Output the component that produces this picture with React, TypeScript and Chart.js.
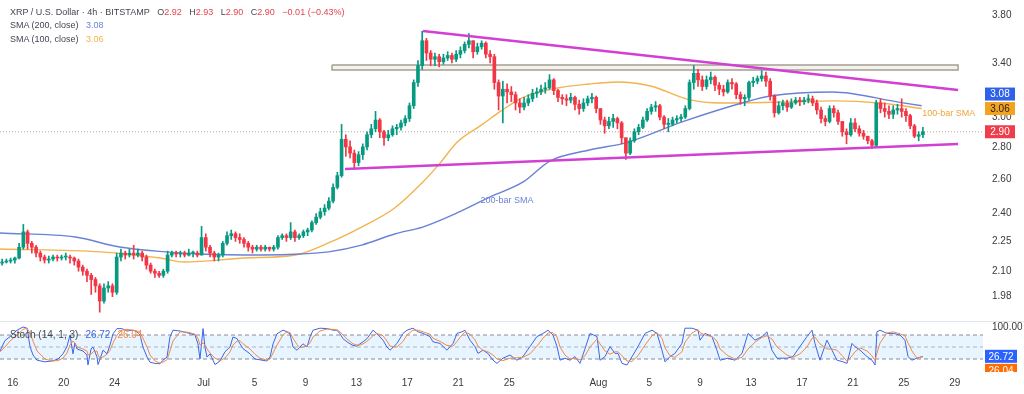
import React, { useEffect, useRef } from "react";
import { Chart, registerables } from "chart.js";

Chart.register(...registerables);

const FONT = '"Liberation Sans", Arial, sans-serif';
Chart.defaults.font.family = FONT;

// ---------- axes ----------
const X_END_DAYS = 77.22; // days since Jun 15 00:00 shown at the right edge of the plot
const TICK_DAYS = [1, 5, 9, 16, 20, 24, 28, 32, 36, 40, 47, 51, 55, 59, 63, 67, 71, 75];
const TICK_LABELS = ["16", "20", "24", "Jul", "5", "9", "13", "17", "21", "25", "Aug", "5", "9", "13", "17", "21", "25", "29"];
const PRICE_TICKS = [1.98, 2.1, 2.25, 2.4, 2.6, 2.8, 3.0, 3.4, 3.8];
const PRICE_MIN = 1.8714;
const PRICE_MAX = 3.934;
const STOCH_MIN = -12.5;
const STOCH_MAX = 112.5;
const STOCH_AXIS_TICKS = [100];
const STOCH_LEVELS = [80, 50, 20];

// ---------- header ----------
const HEADER_TITLE = "XRP / U.S. Dollar · 4h · BITSTAMP";
const HEADER_OHLC_KEYS = ["O", "H", "L", "C"];
const HEADER_OHLC_VALUES = ["2.92", "2.93", "2.90", "2.90"];
const HEADER_CHANGE = "−0.01 (−0.43%)";
const SMA200_TITLE = "SMA (200, close)";
const SMA100_TITLE = "SMA (100, close)";
const STOCH_TITLE = "Stoch (14, 1, 3)";

// ---------- candles (8h bars from Jun 15 00:00) ----------
const BAR_HOURS = 8;
const FIRST_OPEN = 2.14;
const CLOSES = [
  2.145, 2.15, 2.155, 2.165, 2.22, 2.3, 2.24, 2.22, 2.19, 2.17, 2.155, 2.16,
  2.17, 2.165, 2.17, 2.17, 2.165, 2.15, 2.12, 2.1, 2.08, 2.06, 2.03, 1.96,
  2.02, 2.03, 2.0, 2.17, 2.19, 2.18, 2.19, 2.18, 2.19, 2.17, 2.13, 2.1,
  2.09, 2.08, 2.1, 2.18, 2.19, 2.185, 2.19, 2.18, 2.19, 2.19, 2.18, 2.27,
  2.22, 2.19, 2.17, 2.18, 2.24, 2.28, 2.29, 2.27, 2.26, 2.24, 2.22, 2.21,
  2.22, 2.21, 2.22, 2.21, 2.22, 2.27, 2.28, 2.27, 2.3, 2.27, 2.28, 2.3,
  2.31, 2.35, 2.38, 2.41, 2.43, 2.47, 2.55, 2.62, 2.85, 2.8, 2.76, 2.7,
  2.75, 2.8, 2.88, 2.92, 2.98, 2.9, 2.86, 2.88, 2.92, 2.93, 2.96, 2.99,
  3.08, 3.25, 3.38, 3.58, 3.48, 3.43, 3.45, 3.41, 3.44, 3.46, 3.43, 3.47,
  3.5, 3.55, 3.58, 3.49, 3.53, 3.56, 3.47, 3.45, 3.25, 3.15, 3.2, 3.18,
  3.16, 3.1, 3.07, 3.1, 3.13, 3.17, 3.18, 3.2, 3.21, 3.27, 3.19, 3.14,
  3.13, 3.12, 3.14, 3.09, 3.06, 3.1, 3.13, 3.14, 3.06, 2.98, 2.94, 2.97,
  2.99, 2.96, 2.86, 2.76, 2.84, 2.9, 2.93, 2.98, 3.04, 3.07, 3.08, 3.0,
  2.95, 2.95, 2.98, 2.99, 3.0, 3.06, 3.25, 3.32, 3.27, 3.22, 3.27, 3.29,
  3.23, 3.2, 3.18, 3.25, 3.24, 3.16, 3.13, 3.14, 3.25, 3.26, 3.28, 3.3,
  3.26, 3.15, 3.03, 3.08, 3.1, 3.07, 3.1, 3.12, 3.11, 3.12, 3.13, 3.1,
  3.05, 2.99, 2.97, 3.06, 3.03, 2.97, 2.9, 2.88, 2.96, 2.92, 2.89, 2.87,
  2.84, 2.81, 3.1, 3.06, 3.04, 3.02, 3.05, 3.06, 3.04, 3.01, 2.94, 2.87,
  2.88, 2.9,
];
const HIGHS = [
  2.16, 2.16, 2.165, 2.17, 2.24, 2.34, 2.31, 2.25, 2.23, 2.2, 2.18, 2.175,
  2.18, 2.18, 2.18, 2.19, 2.18, 2.17, 2.16, 2.13, 2.11, 2.09, 2.07, 2.04,
  2.04, 2.05, 2.04, 2.19, 2.21, 2.2, 2.21, 2.23, 2.21, 2.2, 2.18, 2.14,
  2.11, 2.1, 2.11, 2.2, 2.2, 2.2, 2.2, 2.2, 2.21, 2.2, 2.2, 2.33,
  2.29, 2.23, 2.2, 2.19, 2.25, 2.3, 2.31, 2.3, 2.29, 2.27, 2.25, 2.23,
  2.23, 2.23, 2.23, 2.22, 2.23, 2.28, 2.29, 2.29, 2.35, 2.31, 2.29, 2.31,
  2.32, 2.36, 2.4, 2.43, 2.45, 2.49, 2.57, 2.64, 2.95, 2.88, 2.84, 2.78,
  2.77, 2.82, 2.9, 2.95, 3.04, 2.99, 2.91, 2.91, 2.94, 2.95, 2.98, 3.01,
  3.1, 3.27, 3.42, 3.66, 3.6, 3.5, 3.48, 3.47, 3.47, 3.49, 3.48, 3.5,
  3.53, 3.57, 3.64, 3.58, 3.56, 3.58, 3.57, 3.5, 3.47, 3.27, 3.26, 3.24,
  3.22, 3.18, 3.13, 3.14, 3.16, 3.2, 3.21, 3.23, 3.25, 3.31, 3.28, 3.2,
  3.16, 3.16, 3.17, 3.15, 3.12, 3.13, 3.15, 3.17, 3.15, 3.06, 3.0, 3.0,
  3.02, 3.0, 2.97, 2.86, 2.86, 2.92, 2.95, 3.0, 3.06, 3.09, 3.11, 3.09,
  3.01, 2.99, 3.0, 3.01, 3.02, 3.08, 3.27, 3.38, 3.35, 3.3, 3.3, 3.33,
  3.3, 3.25, 3.23, 3.27, 3.28, 3.25, 3.18, 3.16, 3.26, 3.29, 3.3, 3.34,
  3.33, 3.28, 3.16, 3.11, 3.12, 3.12, 3.13, 3.14, 3.14, 3.14, 3.16, 3.15,
  3.12, 3.07, 3.01, 3.08, 3.08, 3.05, 2.97, 2.92, 2.99, 2.99, 2.94, 2.91,
  2.87, 2.85, 3.12, 3.13, 3.1, 3.08, 3.08, 3.09, 3.13, 3.06, 3.02, 2.95,
  2.9, 2.93,
];
const LOWS = [
  2.13, 2.14, 2.14, 2.14, 2.16, 2.21, 2.21, 2.19, 2.17, 2.15, 2.14, 2.14,
  2.15, 2.15, 2.155, 2.155, 2.14, 2.13, 2.1, 2.08, 2.05, 1.99, 2.0, 1.91,
  1.95, 2.0, 1.98, 1.99, 2.15, 2.16, 2.17, 2.16, 2.17, 2.15, 2.11, 2.09,
  2.07, 2.07, 2.07, 2.09, 2.17, 2.17, 2.17, 2.17, 2.175, 2.17, 2.17, 2.18,
  2.2, 2.17, 2.15, 2.15, 2.17, 2.23, 2.26, 2.25, 2.24, 2.22, 2.2, 2.19,
  2.2, 2.2, 2.2, 2.2, 2.2, 2.21, 2.26, 2.25, 2.26, 2.25, 2.26, 2.27,
  2.28, 2.3, 2.34, 2.37, 2.39, 2.42, 2.46, 2.54, 2.61, 2.74, 2.73, 2.66,
  2.68, 2.72, 2.78, 2.86, 2.9, 2.86, 2.81, 2.84, 2.87, 2.88, 2.91, 2.94,
  2.97, 3.06, 3.22, 3.35, 3.42, 3.38, 3.38, 3.37, 3.39, 3.42, 3.4, 3.41,
  3.44, 3.48, 3.52, 3.44, 3.47, 3.51, 3.44, 3.4, 3.2, 3.05, 2.96, 3.1,
  3.11, 3.05, 3.03, 3.05, 3.08, 3.11, 3.14, 3.16, 3.17, 3.2, 3.16, 3.11,
  3.09, 3.08, 3.1, 3.05, 3.02, 3.04, 3.08, 3.1, 3.03, 2.95, 2.89, 2.92,
  2.93, 2.92, 2.82, 2.72, 2.75, 2.83, 2.88, 2.92, 2.97, 3.02, 3.04, 2.98,
  2.92, 2.9, 2.94, 2.96, 2.97, 2.99, 3.05, 3.2, 3.22, 3.19, 3.2, 3.24,
  3.19, 3.16, 3.15, 3.17, 3.2, 3.13, 3.09, 3.08, 3.12, 3.22, 3.24, 3.26,
  3.22, 3.12, 3.0, 3.02, 3.05, 3.04, 3.06, 3.09, 3.08, 3.09, 3.1, 3.08,
  3.02, 2.96, 2.94, 2.96, 3.0, 2.95, 2.87, 2.82, 2.87, 2.9, 2.87, 2.85,
  2.82, 2.79, 2.8, 3.03, 3.0, 2.99, 2.99, 3.02, 3.0, 2.97, 2.92, 2.86,
  2.84, 2.86,
];

// ---------- moving averages (day, value) ----------
const SMA200_DAYS = [0, 5.9, 9.4, 13.0, 15.7, 20.6, 23.6, 25.8, 28.4, 31.0, 33.2, 35.9, 38.5, 41.1, 43.2, 46.3, 49.3, 53.7, 58.7, 60.5, 65.4, 70.7, 72.4];
const SMA200 = [2.294, 2.273, 2.221, 2.196, 2.185, 2.18, 2.185, 2.196, 2.231, 2.289, 2.326, 2.403, 2.494, 2.582, 2.71, 2.78, 2.83, 2.97, 3.11, 3.15, 3.18, 3.104, 3.08];
const SMA100_DAYS = [0, 7.9, 12.6, 14.5, 19.2, 23.2, 25.8, 28.4, 31.0, 33.2, 34.6, 35.9, 37.9, 39.3, 41.1, 43.8, 46.3, 48.5, 51.1, 54.2, 56.6, 61.7, 65.4, 69.1, 72.4];
const SMA100 = [2.211, 2.196, 2.165, 2.145, 2.165, 2.18, 2.242, 2.326, 2.431, 2.58, 2.7, 2.83, 2.95, 3.04, 3.14, 3.209, 3.239, 3.254, 3.224, 3.122, 3.1, 3.107, 3.115, 3.1, 3.06];

// ---------- drawings ----------
const UPPER_TREND_DAYS = [33.23, 75.26];
const UPPER_TREND = [3.662, 3.195];
const LOWER_TREND_DAYS = [27.1, 75.26];
const LOWER_TREND = [2.66, 2.819];
const ZONE_DAYS = [26.08, 75.26];
const ZONE_PRICES = [3.345, 3.385];

// ---------- stochastic (day, %K, %D) ----------
const STOCH_DAYS = [
  0, 0.39, 0.79, 1.34, 1.81, 2.12, 2.36, 2.59, 2.91, 3.53,
  4.08, 4.56, 4.95, 5.26, 5.5, 5.73, 5.89, 6.05, 6.52, 6.83,
  6.91, 7.15, 7.31, 7.62, 7.7, 7.86, 8.09, 8.41, 8.64, 8.88,
  9.19, 9.58, 9.98, 10.45, 10.76, 11.0, 11.23, 11.55, 11.78, 12.18,
  12.57, 12.8, 13.12, 13.35, 13.59, 14.14, 14.77, 15.32, 15.55, 15.71,
  15.95, 16.1, 16.26, 16.5, 16.89, 17.28, 17.67, 18.07, 18.3, 18.62,
  18.85, 19.09, 19.64, 20.03, 20.42, 20.97, 21.21, 21.45, 21.76, 22.23,
  22.55, 22.78, 23.02, 23.33, 23.57, 23.8, 24.12, 24.35, 24.59, 25.14,
  25.69, 26.16, 26.47, 26.71, 26.94, 27.26, 27.49, 27.73, 28.04, 28.28,
  28.52, 28.83, 29.3, 29.62, 30.09, 30.4, 30.64, 31.19, 31.66, 31.97,
  32.44, 32.84, 33.23, 33.78, 34.01, 34.56, 35.11, 35.59, 35.9, 36.29,
  36.53, 36.92, 37.31, 37.55, 37.94, 38.33, 38.73, 39.04, 39.51, 40.06,
  40.61, 41.08, 41.63, 42.18, 42.66, 43.05, 43.44, 43.76, 43.99, 44.38,
  44.78, 45.17, 45.56, 45.95, 46.35, 46.9, 47.13, 47.53, 47.92, 48.31,
  48.55, 48.86, 49.25, 49.65, 50.12, 50.67, 51.22, 51.61, 52.0, 52.24,
  52.63, 53.02, 53.57, 53.81, 54.36, 54.83, 54.99, 55.38, 55.93, 56.32,
  56.56, 57.19, 57.74, 58.29, 58.76, 59.31, 59.86, 60.25, 60.64, 61.04,
  61.82, 62.29, 62.84, 63.39, 63.79, 64.02, 64.41, 64.96, 65.36, 65.75,
  66.22, 66.54, 66.93, 67.16, 67.56, 68.11, 68.5, 68.74, 68.89, 69.13,
  69.68, 70.15, 70.7, 71.09, 71.33, 71.64, 72.03, 72.51,
];
const STOCH_K = [
  40, 66, 76, 92, 100, 97, 51, 30, 17, 13,
  15, 20, 33, 51, 80, 33, 60, 45, 40, 30,
  5, 45, 50, 25, 6, 20, 42, 33, 55, 83,
  96, 96, 90, 92, 88, 80, 50, 25, 12, 9,
  8, 17, 25, 75, 92, 90, 85, 80, 58, 20,
  96, 50, 25, 33, 6, 15, 38, 50, 75, 71,
  58, 46, 33, 20, 18, 15, 25, 58, 83, 92,
  88, 83, 50, 42, 50, 58, 50, 75, 92, 97,
  96, 92, 92, 83, 71, 63, 58, 54, 52, 58,
  63, 71, 92, 83, 67, 50, 42, 59, 84, 92,
  97, 88, 84, 76, 63, 59, 42, 59, 84, 88,
  92, 67, 51, 34, 42, 34, 17, 9, 22, 30,
  17, 26, 51, 76, 84, 92, 80, 51, 17, 22,
  17, 26, 9, 45, 84, 76, 17, 26, 51, 34,
  34, 9, 5, 26, 51, 84, 92, 84, 42, 13,
  26, 34, 59, 97, 97, 92, 67, 84, 76, 42,
  17, 22, 17, 34, 84, 67, 76, 88, 42, 22,
  22, 26, 51, 76, 92, 59, 17, 67, 42, 17,
  13, 9, 59, 51, 42, 26, 17, 5, 88, 92,
  84, 84, 80, 67, 26, 17, 22, 26.72,
];
const STOCH_D = [
  38, 50, 65, 80, 94, 97, 85, 65, 40, 20,
  15, 16, 22, 35, 55, 65, 60, 50, 45, 40,
  30, 32, 38, 40, 30, 22, 25, 32, 42, 60,
  80, 92, 94, 92, 90, 86, 72, 50, 30, 15,
  10, 12, 18, 40, 65, 88, 87, 82, 72, 55,
  60, 55, 45, 35, 22, 16, 22, 38, 55, 65,
  66, 58, 45, 32, 22, 17, 20, 35, 55, 80,
  88, 86, 72, 56, 48, 50, 53, 60, 75, 90,
  95, 94, 93, 88, 80, 70, 64, 58, 55, 55,
  58, 64, 78, 84, 78, 65, 52, 50, 64, 80,
  92, 92, 88, 82, 72, 64, 54, 52, 64, 80,
  88, 82, 68, 52, 42, 38, 30, 20, 16, 22,
  23, 24, 33, 52, 72, 85, 86, 75, 50, 30,
  20, 22, 18, 28, 50, 70, 58, 40, 32, 38,
  38, 28, 15, 14, 28, 55, 78, 86, 72, 48,
  28, 24, 38, 62, 85, 94, 86, 80, 76, 65,
  45, 28, 20, 24, 45, 62, 74, 78, 70, 50,
  30, 24, 33, 50, 72, 75, 58, 45, 45, 42,
  26, 14, 28, 38, 48, 40, 28, 16, 35, 60,
  85, 88, 83, 78, 60, 40, 22, 26.04,
];

// ---------- colours ----------
const UP = "#089981";
const DOWN = "#f23645";
const SMA200_COLOR = "#6a82d6";
const SMA100_COLOR = "#f3b34f";
const TREND_COLOR = "#d23fd2";
const TEXT = "#434651";
const VALUE_RED = "#e5434f";
const K_COLOR = "#3d66e6";
const D_COLOR = "#f0894a";

function box(ctx: CanvasRenderingContext2D, x: number, y: number, w: number, h: number, bg: string, fg: string, text: string) {
  ctx.fillStyle = bg;
  ctx.fillRect(x, y - h / 2, w, h);
  ctx.fillStyle = fg;
  ctx.textAlign = "center";
  ctx.textBaseline = "middle";
  ctx.fillText(text, x + w / 2, y + 0.5);
}

const mainOverlay = {
  id: "mainOverlay",
  afterDraw(chart: any) {
    const { ctx, chartArea, scales } = chart;
    const xs = scales.x;
    const ys = scales.y;
    ctx.save();
    ctx.font = `9px ${FONT}`;
    ctx.textBaseline = "middle";
    ctx.fillStyle = SMA200_COLOR;
    ctx.textAlign = "center";
    ctx.fillText("200-bar SMA", xs.getPixelForValue(39.83), ys.getPixelForValue(2.471));
    ctx.fillStyle = "#eba63c";
    ctx.textAlign = "left";
    ctx.fillText("100-bar SMA", xs.getPixelForValue(72.45), ys.getPixelForValue(3.022));

    const items = [
      { v: SMA200[SMA200.length - 1], bg: "#2f62e6", fg: "#ffffff" },
      { v: SMA100[SMA100.length - 1], bg: "#f5a21f", fg: "#1e1e1e" },
      { v: CLOSES[CLOSES.length - 1], bg: "#ee3d4b", fg: "#ffffff" },
    ]
      .map((it) => ({ ...it, y: ys.getPixelForValue(it.v) }))
      .sort((a, b) => a.y - b.y);
    for (let i = items.length - 2; i >= 0; i--) {
      if (items[i + 1].y - items[i].y < 14.5) items[i].y = items[i + 1].y - 14.5;
    }
    ctx.font = `10px ${FONT}`;
    items.forEach((it) => box(ctx, chartArea.right + 2, it.y, 30, 13, it.bg, it.fg, it.v.toFixed(2)));
    ctx.restore();
  },
};

const stochOverlay = {
  id: "stochOverlay",
  afterDraw(chart: any) {
    const { ctx, chartArea, scales } = chart;
    const ys = scales.y;
    const k = STOCH_K[STOCH_K.length - 1];
    const d = STOCH_D[STOCH_D.length - 1];
    const yk = ys.getPixelForValue(k);
    ctx.save();
    ctx.beginPath();
    ctx.rect(chartArea.right, 0, 60, chartArea.bottom);
    ctx.clip();
    ctx.font = `10px ${FONT}`;
    box(ctx, chartArea.right + 2, yk + 14, 32, 13, "#ff6d00", "#ffffff", d.toFixed(2));
    box(ctx, chartArea.right + 2, yk, 32, 13, "#2962ff", "#ffffff", k.toFixed(2));
    ctx.restore();
  },
};

export default function App() {
  const mainRef = useRef<HTMLCanvasElement>(null);
  const stochRef = useRef<HTMLCanvasElement>(null);

  useEffect(() => {
    const n = Math.min(CLOSES.length, HIGHS.length, LOWS.length);
    const bodies: any[] = [];
    const wicks: any[] = [];
    const colors: string[] = [];
    for (let i = 0; i < n; i++) {
      const o = i === 0 ? FIRST_OPEN : CLOSES[i - 1];
      const c = CLOSES[i];
      const x = (i * BAR_HOURS + BAR_HOURS / 2) / 24;
      bodies.push({ x, y: [o, c] });
      wicks.push({ x, y: [Math.min(LOWS[i], o, c), Math.max(HIGHS[i], o, c)] });
      colors.push(c >= o ? UP : DOWN);
    }
    const pts = (xs: number[], ys: number[]) => xs.map((x, i) => ({ x, y: ys[i] }));
    const last = CLOSES[n - 1];
    const zone = [
      { x: ZONE_DAYS[0], y: ZONE_PRICES[1] },
      { x: ZONE_DAYS[1], y: ZONE_PRICES[1] },
      { x: ZONE_DAYS[1], y: ZONE_PRICES[0] },
      { x: ZONE_DAYS[0], y: ZONE_PRICES[0] },
      { x: ZONE_DAYS[0], y: ZONE_PRICES[1] },
    ];

    const main = new Chart(mainRef.current as HTMLCanvasElement, {
      type: "bar",
      data: {
        datasets: [
          { type: "line", label: "upper", data: pts(UPPER_TREND_DAYS, UPPER_TREND), borderColor: TREND_COLOR, borderWidth: 2.5, pointRadius: 0, fill: false, order: 0 },
          { type: "line", label: "lower", data: pts(LOWER_TREND_DAYS, LOWER_TREND), borderColor: TREND_COLOR, borderWidth: 2.5, pointRadius: 0, fill: false, order: 0 },
          { type: "bar", label: "body", data: bodies, backgroundColor: colors, barThickness: 3, grouped: false, minBarLength: 1, borderWidth: 0, order: 1 },
          { type: "bar", label: "wick", data: wicks, backgroundColor: colors, barThickness: 1, grouped: false, borderWidth: 0, order: 2 },
          { type: "line", label: "SMA200", data: pts(SMA200_DAYS, SMA200), borderColor: SMA200_COLOR, borderWidth: 1.4, pointRadius: 0, cubicInterpolationMode: "monotone", fill: false, order: 3 },
          { type: "line", label: "SMA100", data: pts(SMA100_DAYS, SMA100), borderColor: SMA100_COLOR, borderWidth: 1.4, pointRadius: 0, cubicInterpolationMode: "monotone", fill: false, order: 3 },
          { type: "line", label: "zone", data: zone, borderColor: "#a59f93", borderWidth: 1.5, backgroundColor: "rgba(238,234,225,0.6)", fill: "shape", pointRadius: 0, order: 4 },
          { type: "line", label: "last", data: [{ x: 0, y: last }, { x: X_END_DAYS, y: last }], borderColor: "rgba(170,130,130,0.75)", borderWidth: 1, borderDash: [1, 2], pointRadius: 0, fill: false, order: 5 },
        ] as any,
      },
      options: {
        responsive: false,
        animation: false,
        devicePixelRatio: 1,
        events: [],
        layout: { padding: 0 },
        plugins: { legend: { display: false }, tooltip: { enabled: false } },
        scales: {
          x: { type: "linear", min: 0, max: X_END_DAYS, display: false, offset: false },
          y: {
            type: "logarithmic",
            position: "right",
            min: PRICE_MIN,
            max: PRICE_MAX,
            bounds: "data",
            grid: { display: false, drawTicks: false },
            border: { display: false },
            ticks: { padding: 9, color: "#3a3a3a", font: { size: 10 }, autoSkip: false, callback: (v: any) => Number(v).toFixed(2) },
            afterBuildTicks: (s: any) => { s.ticks = PRICE_TICKS.map((value) => ({ value })); },
            afterFit: (s: any) => { s.width = 41; s.paddingTop = 0; s.paddingBottom = 0; },
          },
        },
      } as any,
      plugins: [mainOverlay],
    });

    const level = (v: number) => [{ x: 0, y: v }, { x: X_END_DAYS, y: v }];
    const stoch = new Chart(stochRef.current as HTMLCanvasElement, {
      type: "line",
      data: {
        datasets: [
          { label: "up", data: level(STOCH_LEVELS[0]), borderColor: "#8a8d96", borderWidth: 1, borderDash: [4, 3], pointRadius: 0, fill: "+2", backgroundColor: "rgba(33,150,243,0.1)", order: 3 },
          { label: "mid", data: level(STOCH_LEVELS[1]), borderColor: "rgba(138,141,150,0.6)", borderWidth: 1, borderDash: [4, 3], pointRadius: 0, fill: false, order: 3 },
          { label: "low", data: level(STOCH_LEVELS[2]), borderColor: "#8a8d96", borderWidth: 1, borderDash: [4, 3], pointRadius: 0, fill: false, order: 3 },
          { label: "%K", data: pts(STOCH_DAYS, STOCH_K), borderColor: K_COLOR, borderWidth: 1, pointRadius: 0, fill: false, order: 1 },
          { label: "%D", data: pts(STOCH_DAYS, STOCH_D), borderColor: D_COLOR, borderWidth: 1, pointRadius: 0, fill: false, order: 0 },
        ] as any,
      },
      options: {
        responsive: false,
        animation: false,
        devicePixelRatio: 1,
        events: [],
        layout: { padding: 0 },
        plugins: { legend: { display: false }, tooltip: { enabled: false } },
        scales: {
          x: {
            type: "linear",
            min: 0,
            max: X_END_DAYS,
            offset: false,
            grid: { display: false, drawTicks: false },
            border: { display: false },
            ticks: { autoSkip: false, maxRotation: 0, padding: 5, color: "#3a3a3a", font: { size: 10 }, callback: (_v: any, i: number) => TICK_LABELS[i] ?? "" },
            afterBuildTicks: (s: any) => { s.ticks = TICK_DAYS.map((value) => ({ value })); },
            afterFit: (s: any) => { s.height = 22; s.paddingLeft = 0; s.paddingRight = 0; },
          },
          y: {
            type: "linear",
            position: "right",
            min: STOCH_MIN,
            max: STOCH_MAX,
            grid: { display: false, drawTicks: false },
            border: { display: false },
            ticks: { padding: 9, color: "#3a3a3a", font: { size: 10 }, callback: (v: any) => Number(v).toFixed(2) },
            afterBuildTicks: (s: any) => { s.ticks = STOCH_AXIS_TICKS.map((value) => ({ value })); },
            afterFit: (s: any) => { s.width = 41; s.paddingTop = 0; s.paddingBottom = 0; },
          },
        },
      } as any,
      plugins: [stochOverlay],
    });

    return () => {
      main.destroy();
      stoch.destroy();
    };
  }, []);

  const row: React.CSSProperties = {
    position: "absolute",
    left: 10,
    height: 12,
    lineHeight: "12px",
    fontSize: 9,
    color: TEXT,
    whiteSpace: "nowrap",
    display: "flex",
    gap: 7.5,
  };

  return (
    <div style={{ position: "fixed", left: 0, top: 0, width: 1024, height: 394, background: "#ffffff", overflow: "hidden", fontFamily: FONT }}>
      <canvas ref={mainRef} width={1024} height={321} style={{ position: "absolute", left: 0, top: 0, width: 1024, height: 321 }} />
      <div style={{ position: "absolute", left: 0, top: 321, width: 1024, height: 1, background: "#e3e5ea" }} />
      <canvas ref={stochRef} width={1024} height={72} style={{ position: "absolute", left: 0, top: 322, width: 1024, height: 72 }} />

      <div style={{ ...row, top: 6 }}>
        <span>{HEADER_TITLE}</span>
        {HEADER_OHLC_KEYS.map((k, i) => (
          <span key={k}>
            {k}
            <span style={{ color: VALUE_RED }}>{HEADER_OHLC_VALUES[i]}</span>
          </span>
        ))}
        <span style={{ color: VALUE_RED }}>{HEADER_CHANGE}</span>
      </div>
      <div style={{ ...row, top: 19 }}>
        <span>{SMA200_TITLE}</span>
        <span style={{ color: SMA200_COLOR }}>{SMA200[SMA200.length - 1].toFixed(2)}</span>
      </div>
      <div style={{ ...row, top: 33 }}>
        <span>{SMA100_TITLE}</span>
        <span style={{ color: SMA100_COLOR }}>{SMA100[SMA100.length - 1].toFixed(2)}</span>
      </div>
      <div style={{ ...row, top: 329, fontSize: 10, gap: 7 }}>
        <span>{STOCH_TITLE}</span>
        <span style={{ color: K_COLOR }}>{STOCH_K[STOCH_K.length - 1].toFixed(2)}</span>
        <span style={{ color: D_COLOR }}>{STOCH_D[STOCH_D.length - 1].toFixed(2)}</span>
      </div>
    </div>
  );
}
